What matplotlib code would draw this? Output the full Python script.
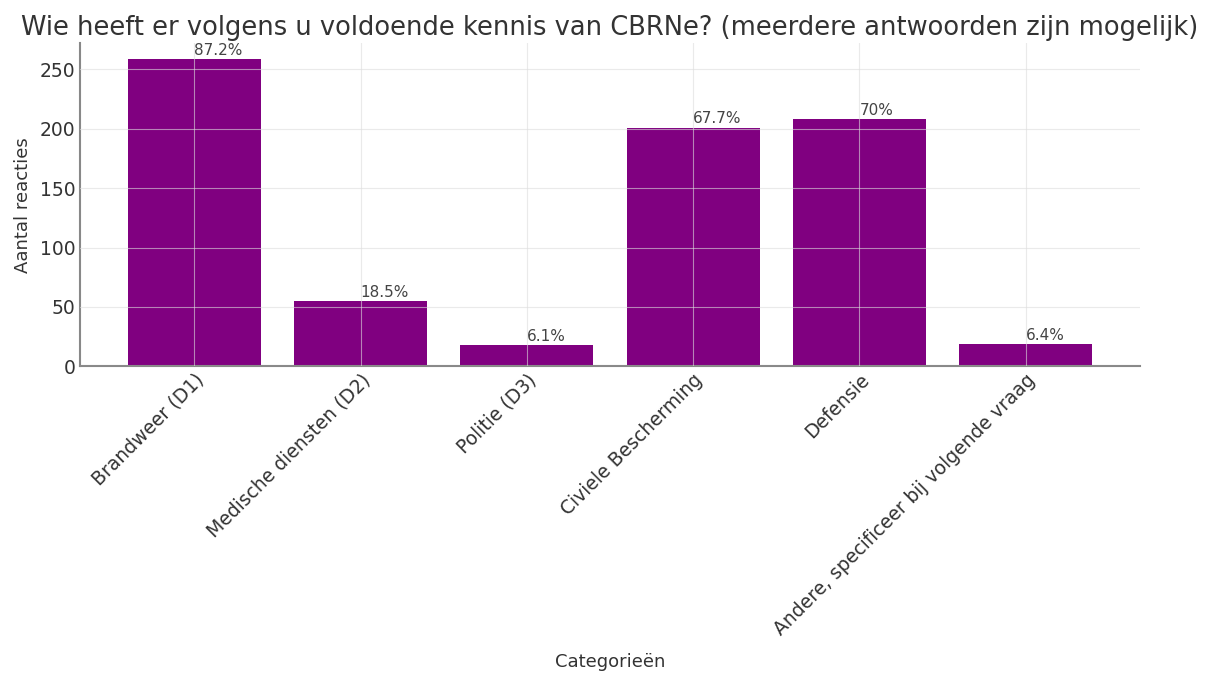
import matplotlib
matplotlib.use('Agg')
import matplotlib.pyplot as plt

# gegevens
categorieen = ['Brandweer (D1)', 'Medische diensten (D2)', 'Politie (D3)',
               'Civiele Bescherming', 'Defensie', 'Andere, specificeer bij volgende vraag']
aantallen = [259, 55, 18, 201, 208, 19]
percentages = ['87.2%', '18.5%', '6.1%', '67.7%', '70%', '6.4%']

fig = plt.figure(figsize=(12.08, 6.77), dpi=100)
ax = fig.add_axes([0.066, 0.459, 0.878, 0.477])

bars = ax.bar(categorieen, aantallen, color='purple', width=0.8)

# grid boven de balken, licht
ax.grid(True, color='#dddddd', linewidth=0.8, alpha=0.6)
ax.set_axisbelow(False)

for bar, pct in zip(bars, percentages):
    ax.text(bar.get_x() + bar.get_width() / 2, bar.get_height() + 1, pct,
            ha='left', va='bottom', fontsize=11, color='#444444')

ax.set_title('Wie heeft er volgens u voldoende kennis van CBRNe? (meerdere antwoorden zijn mogelijk)',
             fontsize=18.5, color='#333333', pad=6)
ax.set_xlabel('Categorieën', fontsize=13, color='#333333', labelpad=10)
ax.set_ylabel('Aantal reacties', fontsize=13, color='#333333', labelpad=6)

for side in ['top', 'right']:
    ax.spines[side].set_visible(False)
for side in ['left', 'bottom']:
    ax.spines[side].set_color('#888888')
    ax.spines[side].set_linewidth(1.5)

ax.tick_params(axis='both', length=0, labelsize=13.5, labelcolor='#333333', pad=3)
plt.setp(ax.get_xticklabels(), rotation=45, ha='right', rotation_mode='anchor')

fig.savefig('out.png', dpi=100)
